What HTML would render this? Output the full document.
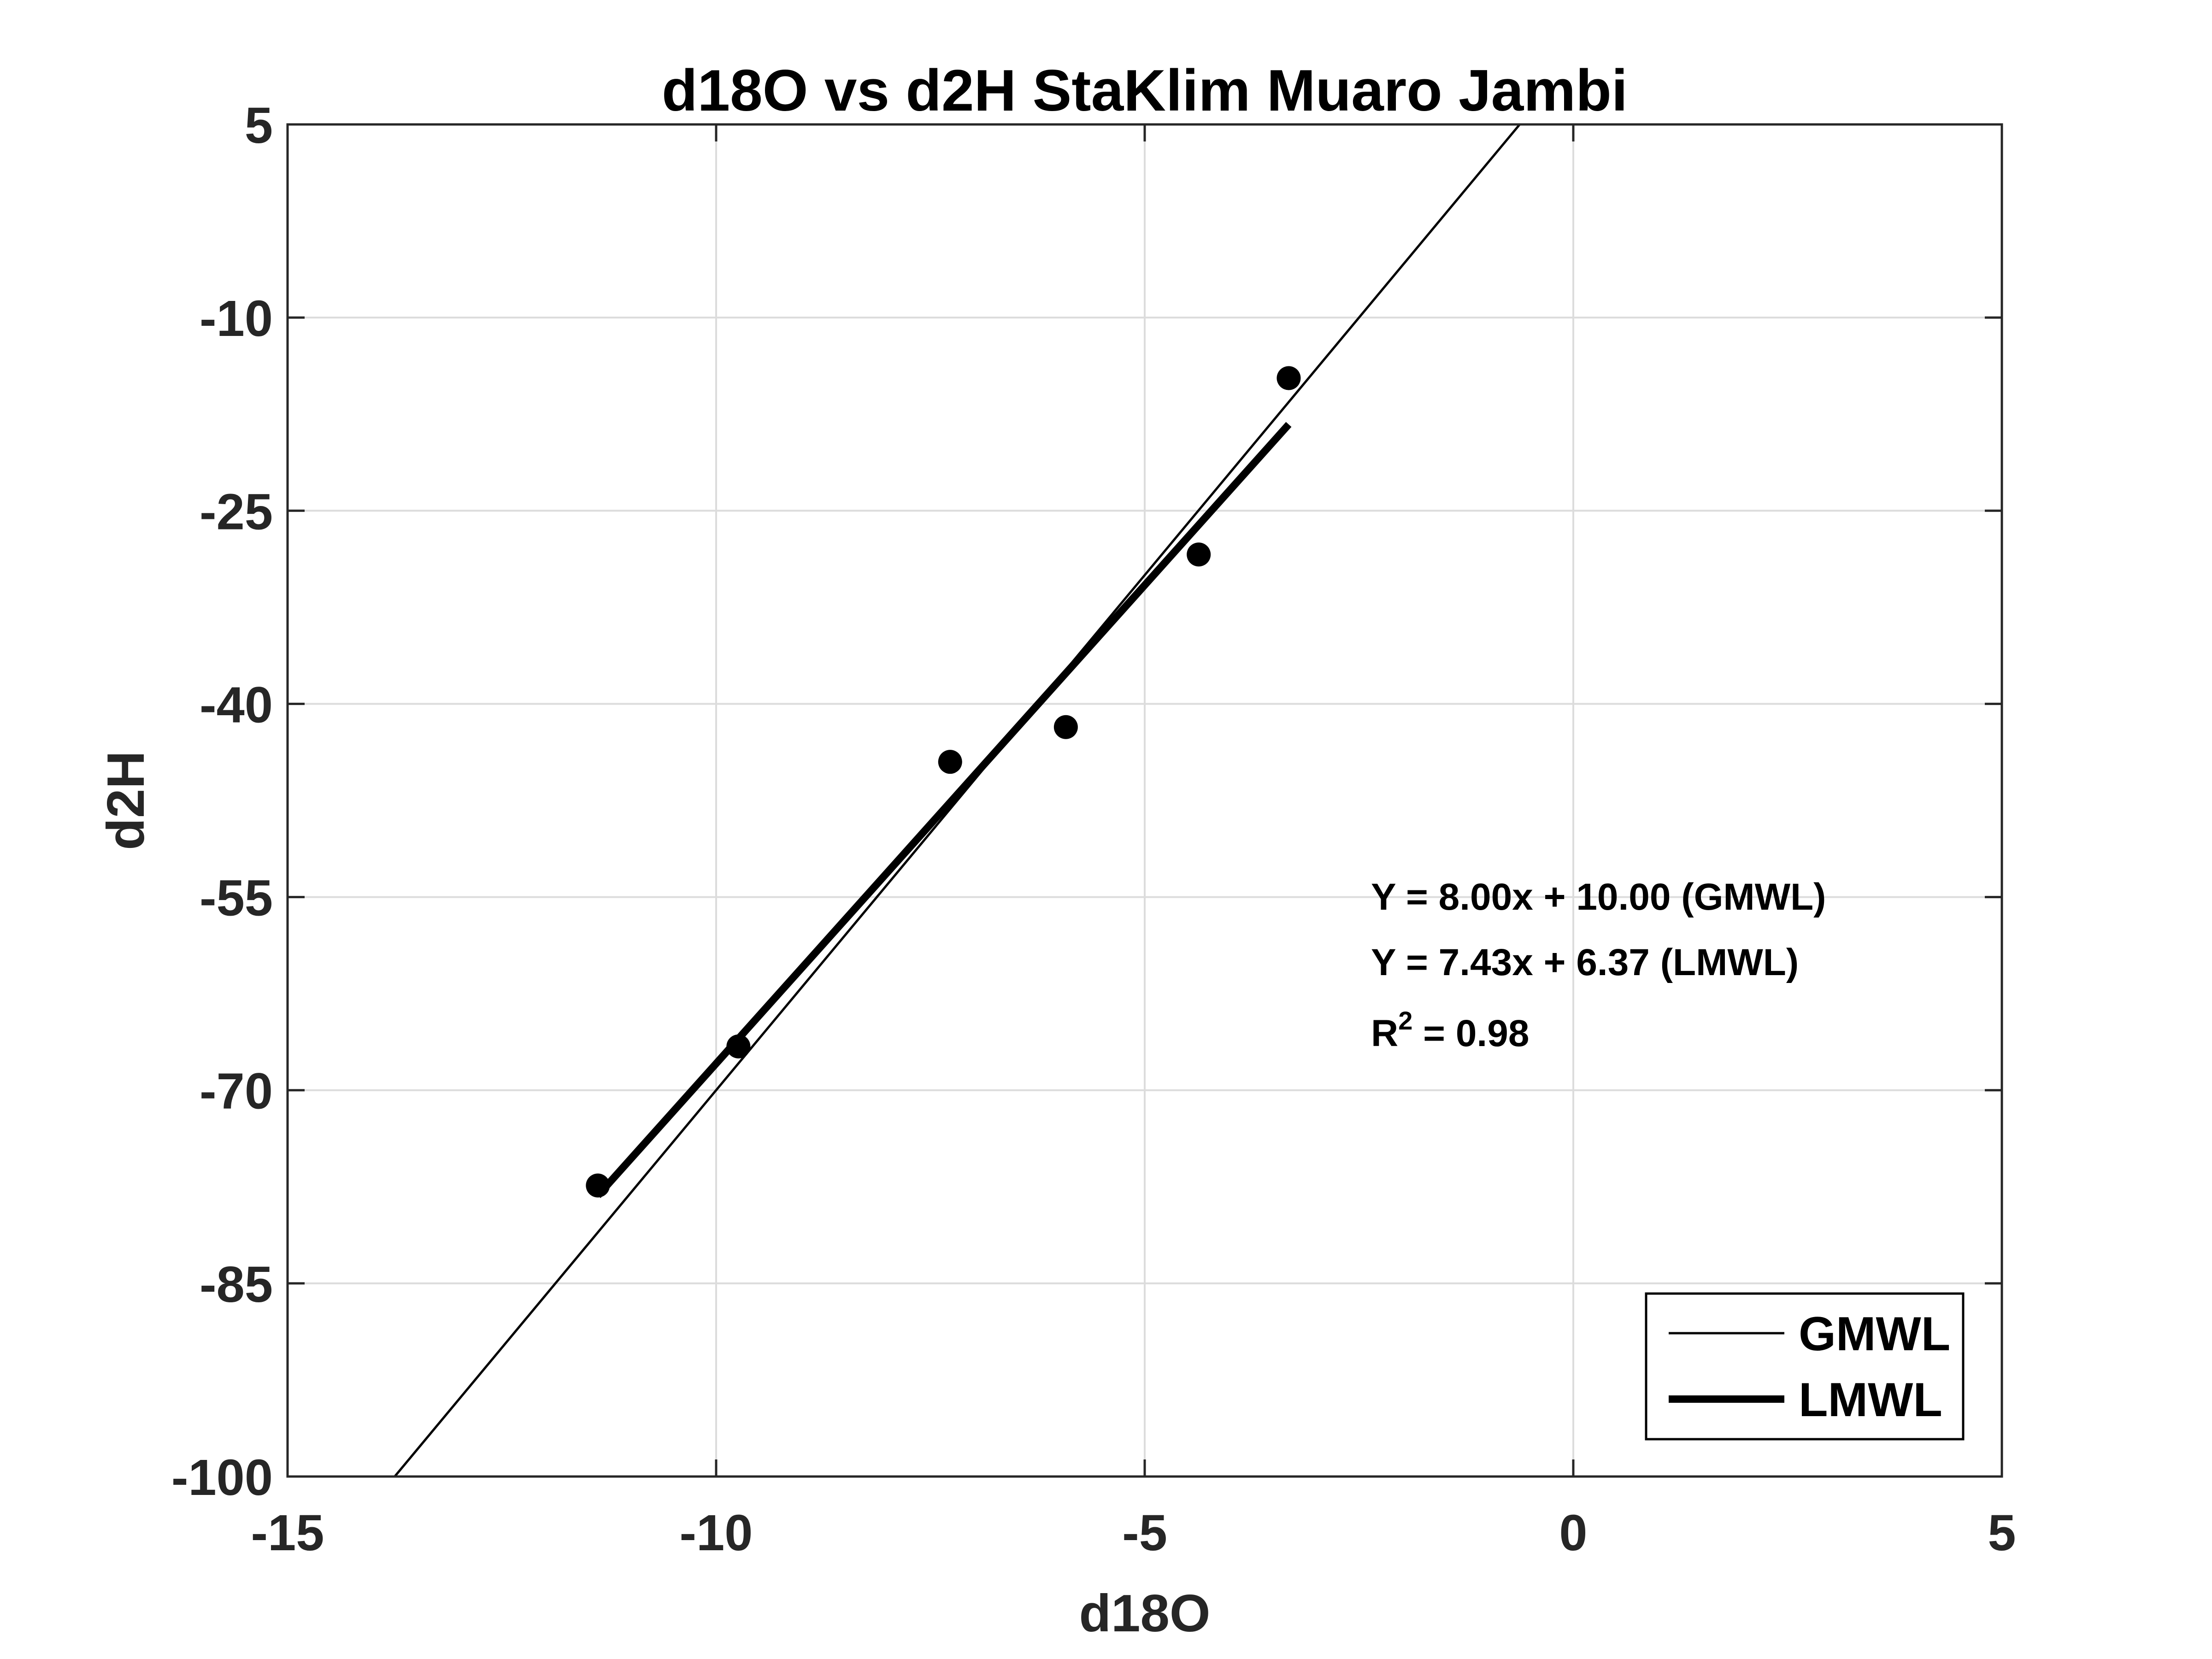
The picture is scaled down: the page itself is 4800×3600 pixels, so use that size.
<!DOCTYPE html>
<html><head><meta charset="utf-8"><style>html,body{margin:0;padding:0;background:#fff}svg{display:block}text{font-family:"Liberation Sans",Arial,sans-serif;font-weight:bold}</style></head>
<body>
<svg id="chart" width="4800" height="3600" viewBox="0 0 4800 3600" xmlns="http://www.w3.org/2000/svg">
<rect x="0" y="0" width="4800" height="3600" fill="#fff"/>
<g id="grid"></g>
<g id="marks"></g>
<g id="axes"></g>
<text x="2484" y="240" font-size="127" text-anchor="middle" fill="#000">d18O vs d2H StaKlim Muaro Jambi</text>
<text x="2484" y="3540" font-size="114" text-anchor="middle" fill="#262626">d18O</text>
<text transform="translate(312,1737) rotate(-90)" font-size="114" text-anchor="middle" fill="#262626">d2H</text>
<g font-size="82" fill="#000">
<text x="2975" y="1974">Y = 8.00x + 10.00 (GMWL)</text>
<text x="2975" y="2116">Y = 7.43x + 6.37 (LMWL)</text>
<text x="2975" y="2270">R<tspan font-size="56" dy="-36">2</tspan><tspan dy="36"> = 0.98</tspan></text>
</g>
<g>
<rect x="3572" y="2807" width="688" height="316" fill="#fff" stroke="#000" stroke-width="5"/>
<line x1="3621" y1="2893" x2="3872" y2="2893" stroke="#000" stroke-width="5"/>
<text x="3903" y="2930" font-size="104" fill="#000">GMWL</text>
<line x1="3621" y1="3036" x2="3872" y2="3036" stroke="#000" stroke-width="16"/>
<text x="3903" y="3073" font-size="104" fill="#000">LMWL</text>
</g>
</svg>
<script>
const xTicks = [-15, -10, -5, 0, 5];
const yTicks = [5, -10, -25, -40, -55, -70, -85, -100];
const d18O = [-11.38, -9.74, -7.27, -5.92, -4.37, -3.32];
const d2H = [-77.4, -66.6, -44.5, -41.8, -28.4, -14.7];
const gmwlCoef = [8.00, 10.00];
const lmwlCoef = [7.43, 6.37];

const L=624,R=4344,T=270,B=3204,xmin=-15,xmax=5,ymin=-100,ymax=5;
const NS='http://www.w3.org/2000/svg';
function sx(v){return L+(v-xmin)/(xmax-xmin)*(R-L);}
function sy(v){return B-(v-ymin)/(ymax-ymin)*(B-T);}
function mk(tag,attrs,parent){const e=document.createElementNS(NS,tag);for(const k in attrs)e.setAttribute(k,attrs[k]);parent.appendChild(e);return e;}
const grid=document.getElementById('grid'),marks=document.getElementById('marks'),axes=document.getElementById('axes');

xTicks.forEach(v=>{
  const x=sx(v);
  const g=mk('line',{x1:x,y1:T,x2:x,y2:B,stroke:'#dcdcdc','stroke-width':4},grid);
  
  
  const t1=mk('line',{x1:x,y1:B,x2:x,y2:B-37,stroke:'#262626','stroke-width':5},axes);
  
  
  const t2=mk('line',{x1:x,y1:T,x2:x,y2:T+37,stroke:'#262626','stroke-width':5},axes);
  
  
  const lb=mk('text',{x:x,y:B+160,'font-size':110,'text-anchor':'middle',fill:'#262626'},axes);
  lb.textContent=String(v);
  
  
});
yTicks.forEach(v=>{
  const y=sy(v);
  const g=mk('line',{x1:L,y1:y,x2:R,y2:y,stroke:'#dcdcdc','stroke-width':4},grid);
  
  
  const t1=mk('line',{x1:L,y1:y,x2:L+37,y2:y,stroke:'#262626','stroke-width':5},axes);
  
  
  const t2=mk('line',{x1:R,y1:y,x2:R-37,y2:y,stroke:'#262626','stroke-width':5},axes);
  
  
  const lb=mk('text',{x:L-32,y:y+40,'font-size':110,'text-anchor':'end',fill:'#262626'},axes);
  lb.textContent=String(v);
  
  
});
const box=mk('rect',{x:L,y:T,width:R-L,height:B-T,fill:'none',stroke:'#262626','stroke-width':5},axes);



const defs=mk('defs',{},marks);
const cp=mk('clipPath',{id:'clip'},defs);
mk('rect',{x:L,y:T,width:R-L,height:B-T},cp);

const gx1=xmin,gx2=xmax;
const gm=mk('line',{x1:sx(gx1),y1:sy(gmwlCoef[0]*gx1+gmwlCoef[1]),x2:sx(gx2),y2:sy(gmwlCoef[0]*gx2+gmwlCoef[1]),stroke:'#000','stroke-width':5,'clip-path':'url(#clip)'},marks);



const lx1=Math.min(...d18O),lx2=Math.max(...d18O);
const lm=mk('line',{x1:sx(lx1),y1:sy(lmwlCoef[0]*lx1+lmwlCoef[1]),x2:sx(lx2),y2:sy(lmwlCoef[0]*lx2+lmwlCoef[1]),stroke:'#000','stroke-width':16},marks);



d18O.forEach((v,i)=>{
  const c=mk('circle',{cx:sx(v),cy:sy(d2H[i]),r:26,fill:'#000'},marks);
  
  
});
</script>
</body></html>
